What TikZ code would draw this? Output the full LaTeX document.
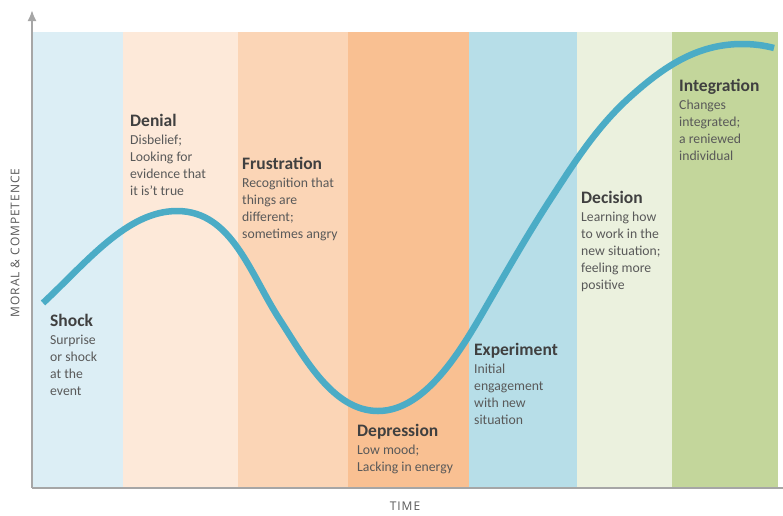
\documentclass[tikz,border=0pt]{standalone}
\usepackage{fontspec}
\setmainfont{Carlito}
\newfontfamily\axisfont[LetterSpace=8]{Open Sans}
\usepackage{tikz}
\usetikzlibrary{arrows.meta,positioning,calc}
\usepackage{xcolor}

\definecolor{shockbg}{HTML}{DCEEF5}
\definecolor{denialbg}{HTML}{FDE9D9}
\definecolor{frustbg}{HTML}{FBD5B6}
\definecolor{deprbg}{HTML}{F9C092}
\definecolor{experbg}{HTML}{B7DEE8}
\definecolor{decisbg}{HTML}{EBF1DE}
\definecolor{integbg}{HTML}{C3D69B}
\definecolor{curveblue}{HTML}{4BACC6}
\definecolor{axisgray}{HTML}{A6A6A6}
\definecolor{titlegray}{HTML}{404040}
\definecolor{bodygray}{HTML}{595959}

\newcommand{\stagetitle}[1]{{\color{titlegray}\fontsize{17.5}{18}\bfseries\selectfont #1}}

\begin{document}
\begin{tikzpicture}[
x=1pt,y=1pt,
stage/.style={
  anchor=north west,
  inner sep=0pt,
  align=left,
  text=bodygray,
  font=\fontsize{13.7}{17}\selectfont
},
axis/.style={
  draw=axisgray,
  line width=2pt
},
axlabel/.style={
  inner sep=0pt,
  text=bodygray,
  font=\axisfont\fontsize{12}{14}\selectfont
},
curve/.style={
  draw=curveblue,
  line width=6.5pt
}
]
\useasboundingbox (0,0) rectangle (783,-515);

% phase bands
\foreach \xa/\xb/\col in {33/123/shockbg,123/238/denialbg,238/348/frustbg,
  348/469/deprbg,469/577/experbg,577/672/decisbg,672/778/integbg}
  \fill[\col] (\xa,-32) rectangle (\xb,-488);

% axes
\coordinate (o) at (32,-488);
\coordinate (ytop) at (32,-10);
\coordinate (xend) at (783,-488);
\coordinate (tmid) at (405,-488);
\draw[axis] (o) -- (xend);
\draw[axis,-{Latex[length=11pt,width=9pt]}] (o) -- (ytop);

\node[axlabel,below=14pt of tmid] (time) {TIME};
\node[axlabel,rotate=90] (moral) at (15,-243) {MORAL \& COMPETENCE};

% change curve
\coordinate (start) at (43,-303);
\coordinate (top1) at (177,-211);
\coordinate (fall) at (280,-320);
\coordinate (low) at (378,-411);
\coordinate (rise1) at (490,-300);
\coordinate (rise2) at (550,-200);
\coordinate (rise3) at (630,-97);
\coordinate (top2) at (742,-44);
\coordinate (stop) at (774,-48);
\draw[curve] (start) .. controls +(43.9,40.9) and +(-50,0) .. (top1)
  .. controls +(55,0) and +(-30,46.1) .. (fall)
  .. controls +(24.5,-37.8) and +(-45,0) .. (low)
  .. controls +(50,0) and +(-25,-43.3) .. (rise1)
  .. controls +(19,32.9) and +(-20.7,-31.9) .. (rise2)
  .. controls +(24.5,37.7) and +(-33.4,-30.1) .. (rise3)
  .. controls +(33.4,30.1) and +(-45,0) .. (top2)
  .. controls +(11,0) and +(-10.6,2.8) .. (stop);

% stage texts
\node[stage] (shock) at (50,-314)
  {\stagetitle{Shock}\\[1pt]Surprise\\or shock\\at the\\event};
\node[stage] (denial) at (130,-114)
  {\stagetitle{Denial}\\[1pt]Disbelief;\\Looking for\\evidence that\\it is't true};
\node[stage] (frust) at (242,-157)
  {\stagetitle{Frustration}\\[1pt]Recognition that\\things are\\different;\\sometimes angry};
\node[stage] (depr) at (357,-424)
  {\stagetitle{Depression}\\[1pt]Low mood;\\Lacking in energy};
\node[stage] (exper) at (474,-343)
  {\stagetitle{Experiment}\\[1pt]Initial\\engagement\\with new\\situation};
\node[stage] (decis) at (581,-191)
  {\stagetitle{Decision}\\[1pt]Learning how\\to work in the\\new situation;\\feeling more\\positive};
\node[stage] (integ) at (679,-79)
  {\stagetitle{Integration}\\[1pt]Changes\\integrated;\\a reniewed\\individual};
\end{tikzpicture}
\end{document}
